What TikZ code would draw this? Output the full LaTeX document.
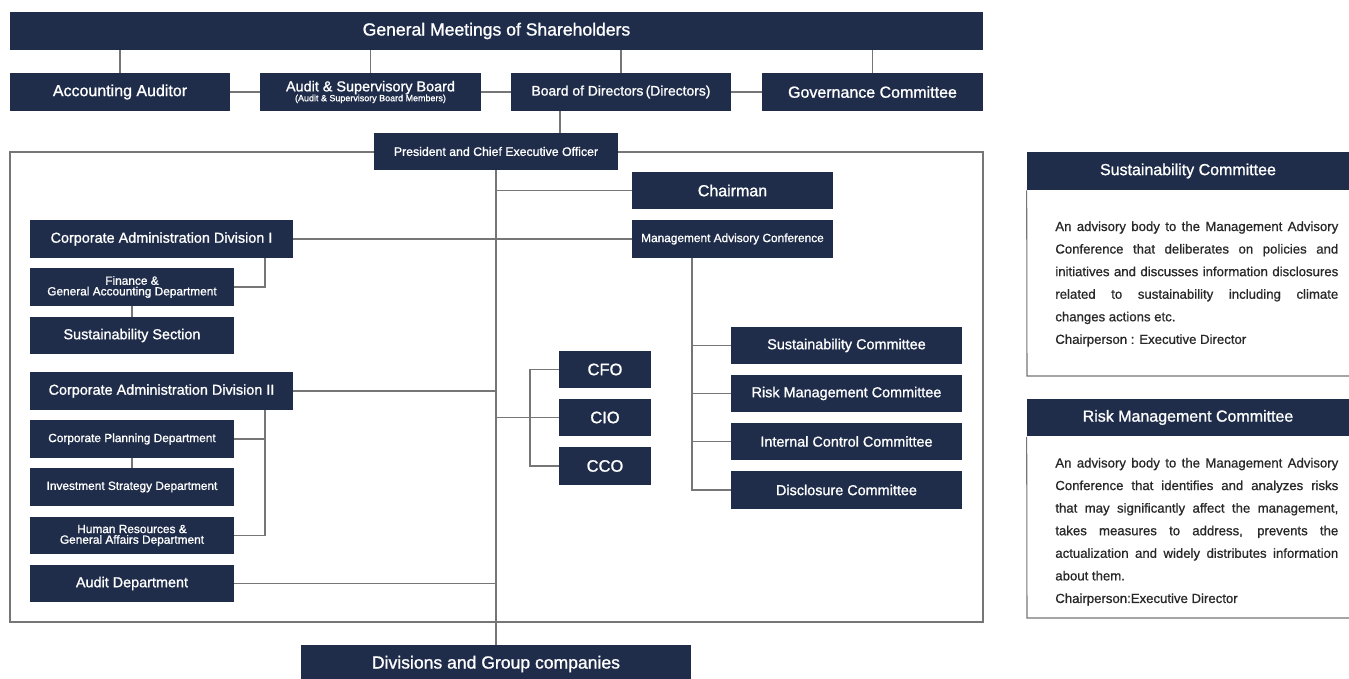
\documentclass[tikz,border=0pt]{standalone}
\usepackage{fontspec}
\setmainfont{Liberation Sans}
\newfontfamily\boxfont[FakeBold=1.1]{Liberation Sans}
\newfontfamily\notefont[FakeBold=0.8]{Liberation Sans}
\usetikzlibrary{positioning}
\definecolor{navy}{RGB}{31,45,75}
\definecolor{linegray}{RGB}{118,118,118}
\definecolor{bodytext}{RGB}{40,40,40}

\begin{document}
\begin{tikzpicture}[x=0.02cm, y=-0.02cm,
    unit/.style={fill=navy, text=white, inner sep=0pt, align=center, minimum height=0.76cm},
    txtL/.style={font=\boxfont\fontsize{10}{12}\selectfont},
    txtM/.style={font=\boxfont\fontsize{9.1}{11}\selectfont},
    txtS/.style={font=\boxfont\fontsize{8.2}{10}\selectfont},
    txtXS/.style={font=\boxfont\fontsize{6.75}{6.05}\selectfont},
    lnk/.style={draw=linegray, line width=0.6pt},
    panel/.style={draw=linegray, line width=0.6pt},
    note/.style={inner sep=0pt, text=bodytext, font=\notefont\fontsize{7.5}{12.85}\selectfont},
  ]
  \path[use as bounding box, fill=white] (0,0) rectangle (1349,679);
  % outer frame of the executive side
  \draw[lnk] (10,152) rectangle (983,622);
  % shareholders + boards
  \node[unit, txtL, minimum width=19.46cm] (gms) at (496.5,31) {General Meetings of Shareholders};
  \node[unit, txtM, minimum width=4.40cm] (acc) at (120,92) {Accounting Auditor};
  \node[unit, txtS, minimum width=4.42cm] (asb) at (370.5,92)
    {Audit \& Supervisory Board\\[-4.4pt]{\fontsize{5.1}{5.1}\selectfont (Audit \& Supervisory Board Members)}};
  \node[unit, font=\boxfont\fontsize{7.9}{9}\selectfont, minimum width=4.40cm] (bod) at (621,92) {Board of Directors\,(Directors)};
  \node[unit, txtM, minimum width=4.42cm] (gov) at (872.5,92) {Governance Committee};
  \foreach \n in {acc,asb,bod,gov}
    \draw[lnk] (gms.south -| \n) -- (\n.north);
  \draw[lnk] (acc.east) -- (asb.west);
  \draw[lnk] (asb.east) -- (bod.west);
  \draw[lnk] (bod.east) -- (gov.west);
  % top of management
  \node[unit, font=\boxfont\fontsize{7}{8}\selectfont, minimum width=4.88cm, minimum height=0.74cm] (pres) at (496,151.5) {President and Chief Executive Officer};
  \coordinate (bodfoot) at (560,111);
  \draw[lnk] (bodfoot) -- (bodfoot |- pres.north);
  \node[unit, txtM, minimum width=4.02cm, minimum height=0.74cm] (chair) at (732.5,190.5) {Chairman};
  \node[unit, txtXS, minimum width=4.02cm] (mac) at (732.5,239) {Management Advisory Conference};
  \node[unit, txtL, minimum width=7.80cm] (div) at (496,664) {Divisions and Group companies};
  \draw[lnk] (pres.south) -- (div.north);
  \draw[lnk] (chair.west -| pres.south) -- (chair.west);
  % corporate administration I
  \node[unit, txtS, minimum width=5.26cm] (cad1) at (161.5,239) {Corporate Administration Division I};
  \node[unit, txtXS, minimum width=4.08cm] (fin) at (132,287) {Finance \&\\General Accounting Department};
  \node[unit, txtS, minimum width=4.08cm, minimum height=0.74cm] (sus) at (132,335.5) {Sustainability Section};
  \draw[lnk] (cad1.east) -- (mac.west);
  \coordinate (cad1foot) at (265,258);
  \draw[lnk] (cad1foot) |- (fin.east);
  \draw[lnk] (fin.south) -- (sus.north);
  % corporate administration II
  \node[unit, txtS, minimum width=5.26cm] (cad2) at (161.5,391) {Corporate Administration Division II};
  \node[unit, txtXS, minimum width=4.08cm] (cpd) at (132,439) {Corporate Planning Department};
  \node[unit, txtXS, minimum width=4.08cm] (isd) at (132,487) {Investment Strategy Department};
  \node[unit, txtXS, minimum width=4.08cm, minimum height=0.74cm] (hrd) at (132,535.5) {Human Resources \&\\General Affairs Department};
  \node[unit, txtS, minimum width=4.08cm, minimum height=0.74cm] (aud) at (132,583.5) {Audit Department};
  \draw[lnk] (cad2.east) -- (cad2.east -| pres.south);
  \coordinate (cad2foot) at (265,410);
  \draw[lnk] (cad2foot) |- (hrd.east);
  \draw[lnk] (cpd.east) -- (cpd.east -| cad2foot);
  \draw[lnk] (cpd.south) -- (isd.north);
  \draw[lnk] (aud.east) -- (aud.east -| pres.south);
  % officers
  \node[unit, font=\boxfont\fontsize{9.4}{11}\selectfont, minimum width=1.84cm, minimum height=0.74cm] (cfo) at (605,369.5) {CFO};
  \node[unit, font=\boxfont\fontsize{9.4}{11}\selectfont, minimum width=1.84cm, minimum height=0.74cm] (cio) at (605,417.5) {CIO};
  \node[unit, font=\boxfont\fontsize{9.4}{11}\selectfont, minimum width=1.84cm] (cco) at (605,466) {CCO};
  \coordinate (cbus) at (530,0);
  \draw[lnk] (cfo.west) -- (cfo.west -| cbus) -- (cco.west -| cbus) -- (cco.west);
  \draw[lnk] (cio.west -| pres.south) -- (cio.west);
  % committees under the conference
  \node[unit, txtS, minimum width=4.62cm, minimum height=0.74cm] (susc) at (846.5,345.5) {Sustainability Committee};
  \node[unit, txtS, minimum width=4.62cm, minimum height=0.74cm] (rmc) at (846.5,393.5) {Risk Management Committee};
  \node[unit, txtS, minimum width=4.62cm, minimum height=0.74cm] (icc) at (846.5,441.5) {Internal Control Committee};
  \node[unit, txtS, minimum width=4.62cm] (dsc) at (846.5,490) {Disclosure Committee};
  \coordinate (macfoot) at (692,258);
  \draw[lnk] (macfoot) |- (dsc.west);
  \foreach \n in {susc,rmc,icc}
    \draw[lnk] (\n.west -| macfoot) -- (\n.west);
  % side notes
  \node[unit, txtM, minimum width=6.44cm] (susp) at (1188,171) {Sustainability Committee};
  \draw[panel] (susp.south west) -- (1027,376) -- (1349,376);
  \node[note, anchor=base west] (susnote) at (1055,231) {\parbox[t]{5.66cm}{\hbadness=10000\hyphenpenalty=10000
    An advisory body to the Management Advisory\linebreak
    Conference that deliberates on policies and\linebreak
    initiatives and discusses information disclosures\linebreak
    related to sustainability including climate\linebreak
    changes actions etc.\\
    Chairperson : Executive Director}};
  \node[unit, txtM, minimum width=6.44cm] (rmcp) at (1188,417.5) {Risk Management Committee};
  \draw[panel] (rmcp.south west) -- (1027,618) -- (1349,618);
  \node[note, anchor=base west] (rmcnote) at (1055,467.5) {\parbox[t]{5.66cm}{\hbadness=10000\hyphenpenalty=10000
    An advisory body to the Management Advisory\linebreak
    Conference that identifies and analyzes risks\linebreak
    that may significantly affect the management,\linebreak
    takes measures to address, prevents the\linebreak
    actualization and widely distributes information\linebreak
    about them.\\
    Chairperson:Executive Director}};
\end{tikzpicture}
\end{document}
